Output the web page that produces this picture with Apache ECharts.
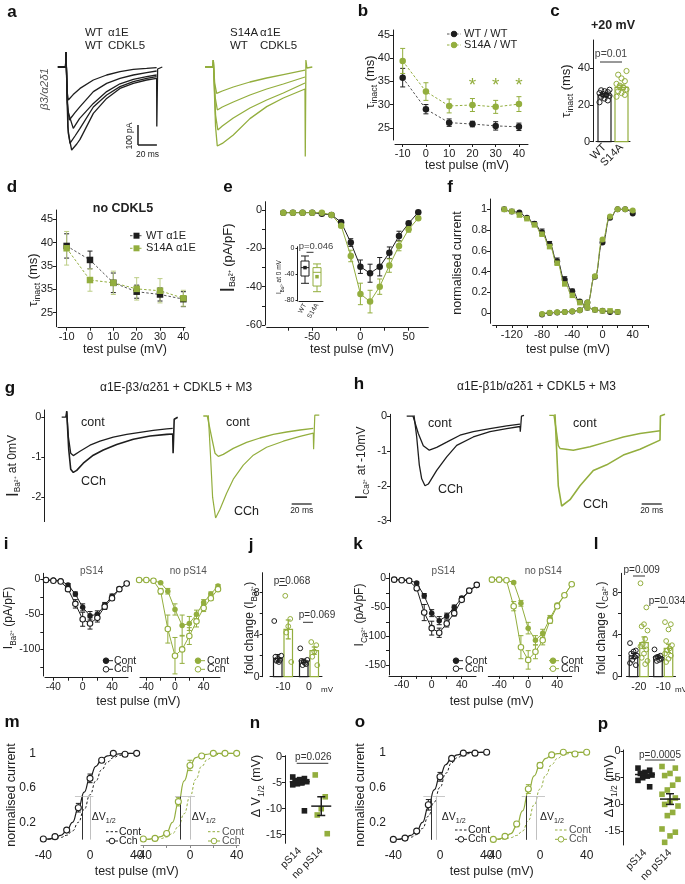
<!DOCTYPE html>
<html><head><meta charset="utf-8"><title>figure</title>
<script src="https://cdn.jsdelivr.net/npm/echarts@6/dist/echarts.min.js"></script>
<style>html,body{margin:0;padding:0;background:#fff;}#chart{width:685px;height:884px;}</style>
</head><body><div id="chart"></div>
<script>
// ================= DATA =================
// a: example current traces [ms, pA]
const aWT1 = [[-9,0],[-0.5,0],[0,75],[1.2,-120],[2.6,-165],[8,-138],[15.6,-107],[30.4,-65],[45.2,-40],[60,-23],[74.8,-12],[89.6,-7],[100.7,-3]];
const aWT2 = [[-9,0],[-0.5,0],[0,75],[1.5,-180],[3.7,-265],[10,-228],[15.6,-198],[30.4,-123],[45.2,-82],[60,-57],[74.8,-40],[89.6,-28],[100.7,-20]];
const aWT3 = [[-9,0],[-0.5,0],[0,75],[2,-220],[8.1,-307],[15,-258],[30.4,-182],[45.2,-123],[60,-84],[74.8,-62],[89.6,-48],[100.7,-40]];
const aWT4 = [[-9,0],[-0.5,0],[0,75],[2,-300],[4.4,-382],[10,-345],[15.6,-307],[30.4,-200],[45.2,-140],[60,-98],[74.8,-73],[89.6,-57],[100.7,-48]];
const aWT5 = [[-9,0],[-0.5,0],[0,75],[2.5,-330],[6.3,-415],[12,-385],[15.6,-362],[30.4,-232],[45.2,-157],[60,-107],[74.8,-82],[89.6,-65],[100.7,-57],[100.9,-298],[101.8,-10],[107,0]];
const aS1 = [[-9,0],[-0.5,0],[0,35],[1.5,-80],[3.7,-132],[10,-120],[22.2,-100],[40.7,-75],[59.3,-55],[77.8,-38],[101.9,-16]];
const aS2 = [[-9,0],[-0.5,0],[0,35],[2,-150],[4.5,-215],[10,-200],[22.2,-175],[40.7,-140],[59.3,-110],[77.8,-85],[101.9,-50]];
const aS3 = [[-9,0],[-0.5,0],[0,35],[2.5,-240],[5,-315],[10,-295],[22.2,-255],[40.7,-205],[59.3,-165],[77.8,-130],[101.9,-80]];
const aS4 = [[-9,0],[-0.5,0],[0,35],[2.5,-300],[4.4,-395],[10,-382],[22.2,-340],[40.7,-258],[59.3,-198],[77.8,-155],[101.9,-110],[102.2,-448],[102.9,35],[104,-5],[110,0]];
const aScaleV = [[80,-390],[80,-290]];   // 100 pA
const aScaleH = [[80,-390],[101,-390]];  // 20 ms

// b
const bVolt = [-10,0,10,20,30,40];
const bWT = [35.8,29.0,26.1,25.8,25.4,25.2];
const bWTerr = [2.0,1.0,0.8,0.6,0.9,0.8];
const bS14A = [39.4,32.8,29.7,29.9,29.5,30.1];
const bS14Aerr = [2.7,1.9,1.5,1.4,1.4,1.6];
const bStarVolt = [20,30,40];
const bStarLevel = 34.6;
const bYTicks = [25,30,35,40,45];

// c
const cGroups = ['WT','S14A'];
const cMeans = [25.4,29.6];
const cErr = [0.9,1.2];
const cWTpts = [21.5,22.5,23.5,24.5,25,25.5,26,26.5,27,27.5,28,28.3];
const cS14Apts = [24.5,25.5,26.5,27.5,28.5,29.5,30.5,31.5,33,34.5,36.5,38.5];

// d
const dVolt = [-10,0,10,20,30,40];
const dWT = [39.3,36.3,31.4,29.5,28.9,27.9];
const dWTerr = [2.6,1.9,2.1,1.4,1.4,1.6];
const dS14A = [38.8,32.0,31.4,30.1,29.7,28.1];
const dS14Aerr = [3.6,2.4,2.5,2.4,2.6,1.7];
const dTickVals = [25,30,35,40,45];
const dTickLabels = ['25','35','35','40','45'];

// e
const eVolt = [-80,-70,-60,-50,-40,-30,-20,-10,0,10,20,30,40,50,60];
const eWT = [-1.4,-1.4,-1.4,-1.4,-2,-2.6,-6.4,-17,-29.6,-33,-29.6,-22.3,-13.6,-7,-1.2];
const eWTerr = [0,0,0,0,0,0.5,1,2,3.5,4.7,4.8,3,2.5,1,0.5];
const eS14A = [-1.4,-1.4,-1.4,-1.4,-1.4,-2.6,-8.2,-24,-43.8,-47.8,-40,-29,-18.8,-10.1,-4.3];
const eS14Aerr = [0,0,0,0,0,0.5,1,3,5.6,5.9,4,3.5,2.5,1.5,0.8];
const eInsetGroups = ['WT','S14A'];
const eBoxWT = [-53.8,-42.6,-29.7,-19.5,-11.8];
const eBoxS14A = [-66.7,-58,-36.9,-29.7,-24];
const eInsetMeans = [-29.7,-43.6];

// f
const fInactV = [-130,-120,-110,-100,-90,-80,-70,-60,-50,-40,-30,-20,-10,0,10,20];
const fInactWT = [1.0,0.98,0.97,0.92,0.86,0.78,0.66,0.5,0.32,0.21,0.11,0.05,0.03,0.02,0.01,0.01];
const fInactWTerr = [0,0,0,0.01,0.02,0.03,0.03,0.03,0.03,0.02,0.01,0,0,0,0,0];
const fInactS14A = [1.0,0.98,0.945,0.91,0.85,0.76,0.64,0.48,0.28,0.17,0.1,0.05,0.03,0.02,0.02,0.01];
const fActV = [-80,-70,-60,-50,-40,-30,-20,-10,0,10,20,30,40];
const fActWT = [-0.015,0.0,0.005,0.01,0.015,0.025,0.1,0.35,0.68,0.92,1.0,1.0,0.96];
const fActS14A = [-0.01,0.003,0.006,0.01,0.016,0.026,0.1,0.355,0.71,0.93,1.0,1.0,0.99];

// g traces [ms, normalised]
const gBlackCont = [[-5,0],[-1,0],[0,0.15],[1.7,-0.5],[4,-0.9],[6.6,-0.96],[13.3,-0.85],[23.3,-0.7],[33.3,-0.6],[46.6,-0.5],[60,-0.43],[73.3,-0.38],[86.6,-0.33],[100,-0.29],[106,-0.28]];
const gBlackCCh = [[0,0.15],[2,-0.8],[4,-1.3],[6.6,-1.38],[10,-1.33],[16.6,-1.15],[26.6,-0.95],[36.6,-0.82],[50,-0.68],[66.6,-0.55],[83.3,-0.47],[100,-0.43],[106,-0.42],[106.4,-0.9],[107.5,-0.05],[111,0]];
const gGreenCont = [[-5,0.03],[-1,0.03],[0,0.05],[3.3,-0.5],[6.7,-0.9],[10,-0.98],[15,-0.93],[25,-0.78],[38.3,-0.63],[51.7,-0.52],[65,-0.43],[78.3,-0.37],[91.7,-0.32],[105,-0.28]];
const gGreenCCh = [[0,0.05],[2.3,-1.0],[4.3,-2.0],[7.3,-2.52],[11.7,-2.3],[18.3,-1.9],[25,-1.55],[35,-1.2],[45,-0.95],[58.3,-0.75],[75,-0.6],[91.7,-0.48],[105,-0.4],[105.3,-0.8],[106.5,0.05],[111,0.05]];
const gScale = [[83.4,-2.17],[103.4,-2.17]];

// h traces
const hBlackCont = [[-7.3,0],[-1,0],[0,0.02],[4.3,-0.5],[9.3,-0.85],[15.3,-0.98],[22.7,-0.9],[32.7,-0.75],[46,-0.55],[59.3,-0.45],[76,-0.36],[92.7,-0.28],[106,-0.23]];
const hBlackCCh = [[0,0.02],[2.7,-0.6],[5.3,-1.4],[7.7,-1.8],[11,-2.0],[14.3,-1.95],[22.7,-1.56],[32.7,-1.17],[42.7,-0.84],[59.3,-0.6],[76,-0.45],[92.7,-0.36],[106,-0.3],[106.3,-0.45],[107.5,0],[110,0.02]];
const hGreenCont = [[-5.7,0.02],[-1,0.02],[0,0.05],[1.7,-0.5],[3.3,-0.85],[5,-0.93],[18.3,-0.98],[35,-0.88],[51.7,-0.74],[68.3,-0.6],[85,-0.5],[105,-0.42]];
const hGreenCCh = [[0,0.05],[1.7,-1.0],[3.3,-2.0],[6.7,-2.58],[15,-2.4],[25,-2.0],[38.3,-1.56],[51.7,-1.4],[68.3,-1.12],[85,-0.95],[105,-0.69],[105.4,0],[107,0.05],[110,0.05]];
const hScale = [[86.7,-2.52],[106.7,-2.52]];

// i (IBa, pA/pF)
const iVolt = [-50,-40,-30,-20,-10,0,10,20,30,40,50,60];
const iPsCont = [-1,-1,-2,-8,-21,-40,-52,-50,-37,-24,-14,-6];
const iPsContErr = [0,0,0,2,3,5,6,5,4,3,2,1];
const iPsCch = [-1,-2,-3,-14,-35,-57,-63,-55,-39,-27,-14,-6];
const iPsCchErr = [0,0,1,3,6,10,8,6,4,3,2,1];
const iNoCont = [-1,-1,-2,-5,-17,-43,-66,-63,-50,-33,-21,-9.5];
const iNoContErr = [0,0,0,1,4,8,15,10,6,4,3,2];
const iNoCch = [-1,-1,-2,-17,-71,-109,-100,-81,-60,-41,-27,-14];
const iNoCchErr = [0,0,0,4,20,26,20,12,8,5,3,2];

// j (fold change IBa)
const jCats = ['-10','0'];
const jContMean = [1.75,1.52];
const jContErr = [0.35,0.15];
const jCchMean = [4.5,2.48];
const jCchErr = [0.9,0.35];
const jContPts = [[5.3,1.6,1.7,1.9,2.0,1.4,1.5],[2.7,1.2,1.4,1.5,1.6,1.3,1.1]];
const jCchPts = [[7.7,5.5,4.8,4.2,1.4],[3.3,3.0,2.4,1.9,1.1]];

// k (ICa, pA/pF)
const kVolt = [-50,-40,-30,-20,-10,0,10,20,30,40,50,60];
const kPsCont = [-2,-2,-3,-8,-30,-60,-73,-65,-50,-34,-22,-12];
const kPsContErr = [0,0,0,2,4,6,7,5,4,3,2,1];
const kPsCch = [-2,-3,-4,-17,-59,-86,-94,-78,-60,-37,-21,-11];
const kPsCchErr = [0,0,1,4,14,12,8,6,5,3,2,1];
const kNoCont = [-2,-2,-3,-7,-43,-86,-107,-95,-69,-46,-29,-10];
const kNoContErr = [0,0,0,2,5,10,8,7,5,3,2,1];
const kNoCch = [-2,-2,-3,-48,-119,-141,-127,-107,-73,-48,-29,-10];
const kNoCchErr = [0,0,0,8,20,16,12,8,5,3,2,1];

// l (fold change ICa)
const lCats = ['-20','-10'];
const lContMean = [1.97,1.9];
const lContErr = [0.25,0.15];
const lCchMean = [3.24,2.7];
const lCchErr = [0.55,0.4];
const lContPts = [[3.2,2.5,2.4,2.2,2.0,1.9,1.6,1.3,1.1],[2.6,2.0,1.9,1.8,1.7,1.6,1.5]];
const lCchPts = [[8.9,6.6,5.0,4.8,4.4,3.6,3.1,2.9,2.6,2.2,1.8,1.5,1.2],[5.2,5.0,4.5,3.4,3.0,2.7,2.5,2.2,2.0,1.7,1.4]];

// m / o (normalised activation)
const mVolt = [-40,-30,-20,-10,0,10,20,30,40];
const mPsCch = [0.007,0.034,0.11,0.37,0.71,0.92,1.0,0.99,1.0];
const mPsCchErr = [0,0,0.02,0.05,0.05,0.02,0,0,0];
const mNoCch = [0.007,0.014,0.07,0.44,0.86,0.97,1.0,1.0,1.0];
const mNoCchErr = [0,0,0.02,0.05,0.06,0.02,0,0,0];
const oPsCch = [0.005,0.02,0.1,0.4,0.72,0.93,0.99,0.99,1.0];
const oPsCchErr = [0,0,0.02,0.06,0.05,0.02,0,0,0];
const oNoCch = [0.005,0.04,0.18,0.58,0.85,0.97,1.0,0.98,1.0];
const oNoCchErr = [0,0,0.03,0.05,0.03,0.01,0,0,0];
const fitVolt = [-40,-35,-30,-25,-20,-15,-10,-5,0,5,10,15,20,25,30,35,40];
const mPsCchFit = [0.003,0.008,0.02,0.05,0.1,0.2,0.36,0.55,0.72,0.85,0.93,0.97,0.985,0.995,1,1,1];
const mPsContFit = [0.001,0.004,0.01,0.025,0.05,0.1,0.2,0.35,0.52,0.68,0.81,0.9,0.95,0.975,0.99,1,1];
const mNoCchFit = [0.002,0.006,0.015,0.035,0.08,0.2,0.42,0.68,0.86,0.95,0.98,0.99,1,1,1,1,1];
const mNoContFit = [0,0.002,0.005,0.012,0.03,0.07,0.15,0.3,0.5,0.7,0.85,0.93,0.97,0.99,1,1,1];
const oPsCchFit = [0.003,0.008,0.02,0.05,0.1,0.2,0.37,0.57,0.73,0.86,0.94,0.97,0.99,1,1,1,1];
const oPsContFit = [0.001,0.004,0.01,0.03,0.06,0.13,0.27,0.43,0.6,0.76,0.88,0.94,0.97,0.985,0.99,1,1];
const oNoCchFit = [0.004,0.012,0.03,0.07,0.16,0.33,0.55,0.73,0.86,0.93,0.97,0.985,0.99,1,1,1,1];
const oNoContFit = [0,0.004,0.01,0.025,0.05,0.1,0.22,0.4,0.58,0.74,0.86,0.93,0.97,0.985,0.99,1,1];
const v12Cch = [-7,-8.6,-7.7,-11.4];     // mL, mR, oL, oR
const v12Cont = [0,0,-2.9,-2.9];
const halfRange = [[-12.9,2.9],[-12.9,4.3],[-14.3,4.3],[-15.7,4.3]];

// n / p (delta V1/2)
const dvCats = ['pS14','no pS14'];
const nPS14 = [-3.9,-4.2,-4.4,-4.6,-4.8,-5.0,-5.2,-5.4,-10.4];
const nNoPS14 = [-3.5,-7.7,-10.0,-11.2,-14.8];
const nMean = [-4.8,-9.5];
const nErr = [0.6,1.8];
const pPS14 = [-3.2,-3.6,-4.0,-4.2,-4.5,-4.7,-5.0,-5.5,-6.7];
const pNoPS14 = [-2.9,-3.2,-4.2,-4.6,-5.3,-6.4,-7.3,-8.1,-8.8,-9.4,-10.0,-10.3,-11.5,-12.1,-14.6,-15.2,-15.9,-17.1];
const pMean = [-4.4,-9.0];
const pErr = [0.5,1.0];

// ================= BUILD =================
const FONT = "'Liberation Sans', Arial, Helvetica, sans-serif";
const K = '#1e1e1e', GR = '#93ae3e', GRL = '#bccd85', GY = '#b0b0b0', TX = '#222';
const grids = [], xAxes = [], yAxes = [], series = [], graphics = [];
const zip = (xs, ys) => xs.map((x, i) => [x, ys[i]]);
const zip3 = (xs, ys, es) => xs.map((x, i) => [x, ys[i], es[i]]);

function addGrid(box, x, y) {
  const i = grids.length;
  grids.push({left: box[0], top: box[1], width: box[2], height: box[3], containLabel: false, outerBoundsMode: 'none', show: false});
  x.gridIndex = i; y.gridIndex = i; xAxes.push(x); yAxes.push(y); return i;
}
function valAxis(min, max, ticks, labels, o) {
  o = o || {};
  const col = o.color || K;
  return {type: 'value', min, max, show: true, offset: o.offset || 0,
    axisLine: {show: o.line !== false, onZero: false, lineStyle: {color: col, width: 1}},
    axisTick: {show: !!ticks, customValues: ticks || [], length: o.tl || 3, lineStyle: {color: col, width: 1}},
    axisLabel: {show: !!labels, customValues: labels || [], fontSize: o.fs || 11, color: TX, fontFamily: FONT, margin: o.margin == null ? 3 : o.margin, formatter: o.fmt || (v => String(v))},
    splitLine: {show: false}, axisPointer: {show: false}};
}
function hid(min, max) { return {type: 'value', min, max, show: false, splitLine: {show: false}}; }
function catAxis(cats, o) {
  o = o || {};
  return {type: 'category', data: cats, boundaryGap: true, offset: o.offset || 0,
    axisLine: {show: o.line !== false, onZero: false, lineStyle: {color: K, width: 1}},
    axisTick: {show: false},
    axisLabel: {show: true, interval: 0, rotate: o.rotate || 0, fontSize: o.fs || 11, color: TX, fontFamily: FONT, margin: o.margin || 4},
    splitLine: {show: false}};
}
function L(gi, data, color, o) {
  o = o || {};
  return {type: 'line', xAxisIndex: gi, yAxisIndex: gi, data, animation: false, silent: true, clip: false,
    symbol: o.sym || 'none', showSymbol: !!o.sym, symbolSize: o.ss || 5,
    smooth: o.smooth || false, smoothMonotone: o.smooth ? 'x' : undefined,
    lineStyle: {color: o.lc || color, width: o.w || 1, type: o.dash ? [2.5, 2] : 'solid'},
    itemStyle: {color: o.open ? '#fff' : color, borderColor: color, borderWidth: o.open ? 1.1 : 0},
    emphasis: {disabled: true}, z: o.z || 3};
}
function P(gi, data, color, o) {
  o = o || {};
  return {type: 'scatter', xAxisIndex: gi, yAxisIndex: gi, data, animation: false, silent: true, clip: false,
    symbol: o.sym || 'circle', symbolSize: o.ss || 5,
    itemStyle: {color: o.open ? '#fff' : color, borderColor: color, borderWidth: o.open ? 1.1 : 0, opacity: 1},
    emphasis: {disabled: true}, z: o.z || 4};
}
function E(gi, data, color, o) {
  o = o || {};
  const cap = o.cap == null ? 2.5 : o.cap, off = o.off || 0;
  return {type: 'custom', xAxisIndex: gi, yAxisIndex: gi, data, silent: true, clip: false, z: o.z || 2,
    renderItem(p, api) {
      const x = api.value(0), y = api.value(1), e = api.value(2);
      if (!e) return null;
      const a = api.coord([x, y + e]), b = api.coord([x, y - e]); const cx = a[0] + off;
      const st = {stroke: color, lineWidth: o.lw || 1};
      return {type: 'group', children: [
        {type: 'line', shape: {x1: cx, y1: a[1], x2: cx, y2: b[1]}, style: st},
        {type: 'line', shape: {x1: cx - cap, y1: a[1], x2: cx + cap, y2: a[1]}, style: st},
        {type: 'line', shape: {x1: cx - cap, y1: b[1], x2: cx + cap, y2: b[1]}, style: st}]};
    }};
}
function dots(gi, groups, color, o) {
  const data = [];
  groups.forEach((arr, g) => arr.forEach((v, k) => data.push([g, v, k])));
  return {type: 'custom', xAxisIndex: gi, yAxisIndex: gi, data, silent: true, clip: false, z: o.z || 5,
    renderItem(p, api) {
      const c = api.coord([api.value(0), api.value(1)]); const k = api.value(2);
      const dx = (o.off || 0) + (o.spread || 0) * ((((k * 5) % 7) / 3) - 1); const r = o.r || 2.5;
      if (o.sq) return {type: 'rect', shape: {x: c[0] + dx - r, y: c[1] - r, width: 2 * r, height: 2 * r}, style: {fill: color}};
      return {type: 'circle', shape: {cx: c[0] + dx, cy: c[1], r}, style: {fill: o.open ? 'rgba(255,255,255,0)' : color, stroke: color, lineWidth: o.open ? 1 : 0}};
    }};
}
function bars(gi, data, color, o) {
  return {type: 'custom', xAxisIndex: gi, yAxisIndex: gi, data, silent: true, clip: false, z: 3,
    renderItem(p, api) {
      const t = api.coord([api.value(0), api.value(1)]); const b = api.coord([api.value(0), 0]);
      return {type: 'rect', shape: {x: t[0] + (o.off || 0) - o.w / 2, y: t[1], width: o.w, height: b[1] - t[1]}, style: {fill: 'rgba(255,255,255,0)', stroke: color, lineWidth: o.lw || 1.2}};
    }};
}
function meanLines(gi, data, color, hw) {
  return {type: 'custom', xAxisIndex: gi, yAxisIndex: gi, data, silent: true, clip: false, z: 6,
    renderItem(p, api) {
      const m = api.coord([api.value(0), api.value(1)]); const e = api.value(2);
      const a = api.coord([api.value(0), api.value(1) + e]), b = api.coord([api.value(0), api.value(1) - e]);
      const st = {stroke: color, lineWidth: 1.5};
      return {type: 'group', children: [
        {type: 'line', shape: {x1: m[0] - hw, y1: m[1], x2: m[0] + hw, y2: m[1]}, style: st},
        {type: 'line', shape: {x1: m[0], y1: a[1], x2: m[0], y2: b[1]}, style: st},
        {type: 'line', shape: {x1: m[0] - 4, y1: a[1], x2: m[0] + 4, y2: a[1]}, style: st},
        {type: 'line', shape: {x1: m[0] - 4, y1: b[1], x2: m[0] + 4, y2: b[1]}, style: st}]};
    }};
}
function T(x, y, text, o) {
  o = o || {};
  const al = o.align || 'center';
  graphics.push({type: 'text', x, y, rotation: o.rot || 0, silent: true, z: 100,
    style: {text, fill: o.color || TX, fontSize: o.fs || 12, fontFamily: FONT, fontWeight: o.bold ? 'bold' : 'normal',
      fontStyle: o.italic ? 'italic' : 'normal',
      align: al, verticalAlign: 'middle', textAlign: al, textVerticalAlign: 'middle', rich: o.rich}});
}
function RT(x, y, parts, o) {
  o = o || {};
  const fs = o.fs || 12.5, col = o.color || TX;
  const rich = {
    n: {fontSize: fs, fontFamily: FONT, fill: col, lineHeight: fs + 5},
    s: {fontSize: fs * 0.68, fontFamily: FONT, fill: col, verticalAlign: 'bottom'},
    b: {fontSize: o.big || fs * 1.45, fontFamily: FONT, fill: col, lineHeight: fs + 5}
  };
  const text = parts.map(p => '{' + p[1] + '|' + p[0] + '}').join('');
  T(x, y, text, {rot: o.rot == null ? Math.PI / 2 : o.rot, rich, fs, color: col, align: o.align});
}
function GL(x1, y1, x2, y2, color, o) {
  o = o || {};
  graphics.push({type: 'line', silent: true, z: 100, shape: {x1, y1, x2, y2}, style: {stroke: color, lineWidth: o.w || 1, lineDash: o.dash ? [2.5, 2] : null}});
}
function LG(x, y, color, text, o) {
  o = o || {};
  const len = o.len || 12;
  GL(x, y, x + len, y, o.lc || color, {dash: o.dash});
  const cx = o.sx != null ? o.sx : x + len / 2;
  if (o.sym === 'circle') graphics.push({type: 'circle', silent: true, z: 101, shape: {cx, cy: y, r: o.r || 2.8}, style: {fill: o.open ? '#fff' : color, stroke: color, lineWidth: 1}});
  if (o.sym === 'square') graphics.push({type: 'rect', silent: true, z: 101, shape: {x: cx - 3, y: y - 3, width: 6, height: 6}, style: {fill: color}});
  T(x + len + (o.gap || 3), y, text, {align: 'left', fs: o.fs || 11, color: o.tc || TX});
}

// ---------- panel a ----------
const gaL = addGrid([55, 45, 110, 115], hid(-12.2, 110), hid(-465, 110));
const gaR = addGrid([200, 45, 115, 115], hid(-14.8, 113), hid(-465, 110));
[aWT1, aWT2, aWT3, aWT4, aWT5].forEach(d => series.push(L(gaL, d, K, {w: 1.3})));
[aS1, aS2, aS3, aS4].forEach(d => series.push(L(gaR, d, GR, {w: 1.3})));
series.push(L(gaL, aScaleV, K, {w: 1.5}), L(gaL, aScaleH, K, {w: 1.5}));
T(85, 33, 'WT', {align: 'left', fs: 11.5}); T(108, 33, 'α1E', {align: 'left', fs: 11.5});
T(85, 45.7, 'WT', {align: 'left', fs: 11.5}); T(108, 45.7, 'CDKL5', {align: 'left', fs: 11.5});
T(230, 33, 'S14A', {align: 'left', fs: 11.5}); T(260, 33, 'α1E', {align: 'left', fs: 11.5});
T(230, 45.7, 'WT', {align: 'left', fs: 11.5}); T(260, 45.7, 'CDKL5', {align: 'left', fs: 11.5});
T(45, 89, 'β3/α2δ1', {rot: Math.PI / 2, fs: 11.5, color: '#555', italic: true});
T(130, 136, '100 pA', {rot: Math.PI / 2, fs: 8.5});
T(147.5, 155, '20 ms', {fs: 8.5});

// ---------- panel b ----------
const gb = addGrid([395, 30, 133, 110],
  valAxis(-13.3, 43.9, bVolt, bVolt, {offset: 4, margin: 4}),
  valAxis(22.36, 46.07, bYTicks, bYTicks, {offset: 2}));
series.push(E(gb, zip3(bVolt, bWT, bWTerr), K), E(gb, zip3(bVolt, bS14A, bS14Aerr), GR));
series.push(L(gb, zip(bVolt, bWT), K, {dash: true, lc: '#555', sym: 'circle', ss: 6.5}));
series.push(L(gb, zip(bVolt, bS14A), GR, {dash: true, sym: 'circle', ss: 6.5}));
series.push({type: 'custom', xAxisIndex: gb, yAxisIndex: gb, data: bStarVolt.map(v => [v, bStarLevel]), silent: true, clip: false, z: 6,
  renderItem(p, api) { const c = api.coord([api.value(0), api.value(1)]);
    return {type: 'text', x: c[0], y: c[1] + 3, style: {text: '*', fill: GR, fontSize: 19, fontFamily: FONT, align: 'center', verticalAlign: 'middle', textAlign: 'center', textVerticalAlign: 'middle'}}; }});
RT(370, 82, [['τ', 'n'], ['inact', 's'], [' (ms)', 'n']], {fs: 13});
T(467, 166, 'test pulse (mV)', {fs: 12.5});
LG(447, 34, K, 'WT / WT', {dash: true, lc: '#555', sym: 'circle', len: 14});
LG(447, 45, GR, 'S14A / WT', {dash: true, sym: 'circle', len: 14});

// ---------- panel c ----------
const gc = addGrid([596, 40, 34, 101.7], catAxis(cGroups, {rotate: 45, fs: 11, margin: 4}), valAxis(0, 55.4, [0, 20, 40], [0, 20, 40], {offset: 3}));
series.push(bars(gc, [[0, cMeans[0]]], K, {w: 13}));
series.push(bars(gc, [[1, cMeans[1]]], GR, {w: 13}));
series.push(dots(gc, [cWTpts, []], K, {open: true, spread: 5, r: 2.6}));
series.push(dots(gc, [[], cS14Apts], GR, {open: true, spread: 5, r: 2.6}));
series.push(E(gc, [[0, cMeans[0], cErr[0]]], K, {lw: 1.5, cap: 4}), E(gc, [[1, cMeans[1], cErr[1]]], GR, {lw: 1.5, cap: 4}));
T(613, 26, '+20 mV', {bold: true, fs: 12.5});
T(611, 54, 'p=0.01', {fs: 10.5, color: '#444'});
GL(600, 62, 622, 62, '#333');
RT(566, 91, [['τ', 'n'], ['inact', 's'], [' (ms)', 'n']], {fs: 13});

// ---------- panel d ----------
const dLabelMap = {}; dTickVals.forEach((v, i) => dLabelMap[v] = dTickLabels[i]);
const gd = addGrid([58, 210, 127, 116.7],
  valAxis(-13.7, 40.7, dVolt, dVolt, {offset: 1, margin: 4}),
  valAxis(22, 47, dTickVals, dTickVals, {offset: 2, fmt: v => dLabelMap[v]}));
series.push(E(gd, zip3(dVolt, dWT, dWTerr), K), E(gd, zip3(dVolt, dS14A, dS14Aerr), GRL));
series.push(L(gd, zip(dVolt, dWT), K, {dash: true, lc: '#555', sym: 'rect', ss: 6.5}));
series.push(L(gd, zip(dVolt, dS14A), GR, {dash: true, sym: 'rect', ss: 6.5}));
T(123, 209, 'no CDKL5', {bold: true, fs: 12.5});
RT(33, 280, [['τ', 'n'], ['inact', 's'], [' (ms)', 'n']], {fs: 13});
T(125, 350, 'test pulse (mV)', {fs: 12.5});
LG(130, 235.7, K, 'WT α1E', {dash: true, lc: '#555', sym: 'square', len: 13});
LG(130, 248.3, GR, 'S14A α1E', {dash: true, sym: 'square', len: 13});

// ---------- panel e ----------
const ge = addGrid([266.7, 201.7, 161.6, 123.3],
  valAxis(-97.2, 70.4, [-75, -50, -25, 0, 25, 50], [-50, 0, 50], {offset: 2.7, margin: 4}),
  valAxis(-60, 4.3, [-60, -50, -40, -30, -20, -10, 0], [-60, -40, -20, 0], {offset: 1.7}));
series.push(E(ge, zip3(eVolt, eWT, eWTerr), K), E(ge, zip3(eVolt, eS14A, eS14Aerr), GR));
series.push(L(ge, zip(eVolt, eWT), K, {sym: 'circle', ss: 6.5}));
series.push(L(ge, zip(eVolt, eS14A), GR, {sym: 'circle', ss: 6.5}));
RT(228, 258, [['I', 'b'], ['Ba²⁺', 's'], [' (pA/pF)', 'n']], {fs: 13, big: 20});
T(352, 350, 'test pulse (mV)', {fs: 12.5});
// inset
const gei = addGrid([299, 246.7, 24, 54.3], catAxis(eInsetGroups, {rotate: 60, fs: 6.5, margin: 3}),
  valAxis(-81, 2.5, [0, -40, -80], [0, -40, -80], {offset: 1.5, fs: 7, tl: 2}));
series.push({type: 'boxplot', xAxisIndex: gei, yAxisIndex: gei, silent: true, animation: false, boxWidth: [8, 8],
  itemStyle: {color: '#fff', borderWidth: 1},
  data: [{value: eBoxWT, itemStyle: {borderColor: K}}, {value: eBoxS14A, itemStyle: {borderColor: GR}}]});
series.push(P(gei, [[0, eInsetMeans[0]]], K, {sym: 'rect', ss: 3.5, z: 8}), P(gei, [[1, eInsetMeans[1]]], GR, {sym: 'rect', ss: 3.5, z: 8}));
T(316, 246.7, 'p=0.046', {fs: 9.5, color: '#444'});
GL(306.5, 252.3, 313.5, 252.3, '#333');
RT(279, 277, [['I', 'n'], ['Ba²⁺', 's'], [' at 0 mV', 'n']], {fs: 6.5});

// ---------- panel f ----------
const gf = addGrid([492.7, 199, 155.6, 124.3],
  valAxis(-145.3, 60.6, [-140, -120, -100, -80, -60, -40, -20, 0, 20, 40, 60], [-120, -80, -40, 0, 40], {offset: 1.7, margin: 4}),
  valAxis(-0.1, 1.1, [0, 0.2, 0.4, 0.6, 0.8, 1], [0, 0.2, 0.4, 0.6, 0.8, 1], {offset: 2.7}));
series.push(E(gf, zip3(fInactV, fInactWT, fInactWTerr), K));
series.push(L(gf, zip(fInactV, fInactWT), K, {smooth: true, sym: 'circle', ss: 6}));
series.push(L(gf, zip(fActV, fActWT), K, {smooth: true, sym: 'circle', ss: 6}));
series.push(L(gf, zip(fInactV, fInactS14A), GR, {smooth: true, sym: 'rect', ss: 5.5, z: 4}));
series.push(L(gf, zip(fActV, fActS14A), GR, {smooth: true, sym: 'circle', ss: 6, z: 4}));
RT(458, 263, [['normalised current', 'n']], {fs: 12.5});
T(568, 350, 'test pulse (mV)', {fs: 12.5});

// ---------- panel g ----------
const ggL = addGrid([44.3, 410, 140, 111.6], hid(-22.4, 117.6), valAxis(-2.61, 0.18, [0, -1, -2], [0, -1, -2], {}));
const ggR = addGrid([195, 410, 125, 111.6], hid(-13.3, 111.7), hid(-2.61, 0.18));
series.push(L(ggL, gBlackCont, K, {w: 1.3}), L(ggL, gBlackCCh, K, {w: 1.6}));
series.push(L(ggR, gGreenCont, GR, {w: 1.3}), L(ggR, gGreenCCh, GR, {w: 1.2}));
series.push(L(ggR, gScale, '#444', {w: 1.5}));
T(100, 388, 'α1E-β3/α2δ1 + CDKL5 + M3', {align: 'left', fs: 12});
RT(13, 466, [['I', 'b'], ['Ba²⁺', 's'], [' at 0mV', 'n']], {fs: 12, big: 17});
T(81, 423, 'cont', {align: 'left', fs: 12.5}); T(81, 482, 'CCh', {align: 'left', fs: 12.5});
T(226, 423, 'cont', {align: 'left', fs: 12.5}); T(234, 512, 'CCh', {align: 'left', fs: 12.5});
T(301.7, 510.7, '20 ms', {fs: 8.5});

// ---------- panel h ----------
const ghL = addGrid([390, 414.3, 140, 107.4], hid(-24, 116), valAxis(-3.03, 0.05, [0, -1, -2, -3], [0, -1, -2, -3], {}));
const ghR = addGrid([540, 414.3, 130, 107.4], hid(-15, 115), hid(-3.03, 0.05));
series.push(L(ghL, hBlackCont, K, {w: 1.3}), L(ghL, hBlackCCh, K, {w: 1.3}));
series.push(L(ghR, hGreenCont, GR, {w: 1.4}), L(ghR, hGreenCCh, GR, {w: 1.6}));
series.push(L(ghR, hScale, '#444', {w: 1.5}));
T(457, 387, 'α1E-β1b/α2δ1 + CDKL5 + M3', {align: 'left', fs: 12});
RT(362, 463, [['I', 'b'], ['Ca²⁺', 's'], [' at -10mV', 'n']], {fs: 12, big: 17});
T(428, 424, 'cont', {align: 'left', fs: 12.5}); T(438, 490, 'CCh', {align: 'left', fs: 12.5});
T(573, 424, 'cont', {align: 'left', fs: 12.5}); T(583, 505, 'CCh', {align: 'left', fs: 12.5});
T(651.7, 511, '20 ms', {fs: 8.5});

// ---------- panel i ----------
const giL = addGrid([45, 573.3, 83, 102.7],
  valAxis(-51.4, 61.8, [-40, -20, 0, 20, 40], [-40, 0, 40], {offset: 1.7, fs: 10.5, margin: 4}),
  valAxis(-138, 8.6, [0, -25, -50, -75, -100, -125], [0, -50, -100], {offset: 1.7, fs: 10.5}));
const giR = addGrid([140, 573.3, 80, 102.7],
  valAxis(-48.8, 62.8, [-40, -20, 0, 20, 40], [-40, 0, 40], {offset: 1.7, fs: 10.5, margin: 4}), hid(-138, 8.6));
series.push(E(giL, zip3(iVolt, iPsCont, iPsContErr), K), E(giL, zip3(iVolt, iPsCch, iPsCchErr), K));
series.push(L(giL, zip(iVolt, iPsCont), K, {sym: 'circle', ss: 5.5}), L(giL, zip(iVolt, iPsCch), K, {sym: 'circle', ss: 5.5, open: true}));
series.push(E(giR, zip3(iVolt, iNoCont, iNoContErr), GR), E(giR, zip3(iVolt, iNoCch, iNoCchErr), GR));
series.push(L(giR, zip(iVolt, iNoCont), GR, {sym: 'circle', ss: 5.5}), L(giR, zip(iVolt, iNoCch), GR, {sym: 'circle', ss: 5.5, open: true}));
T(91.7, 571.7, 'pS14', {fs: 10, color: '#555'}); T(188.3, 571.7, 'no pS14', {fs: 10, color: '#555'});
RT(9, 618, [['I', 'n'], ['Ba²⁺', 's'], [' (pA/pF)', 'n']], {fs: 12});
T(138.3, 701.7, 'test pulse (mV)', {fs: 12.5});
LG(103, 660.7, K, 'Cont', {sym: 'circle', sx: 106, len: 10, fs: 10.5, gap: 1});
LG(103, 669.3, K, 'Cch', {sym: 'circle', open: true, sx: 106, len: 10, fs: 10.5, gap: 1});
LG(195, 660.7, GR, 'Cont', {sym: 'circle', sx: 198, len: 10, fs: 10.5, gap: 2});
LG(195, 669.3, GR, 'Cch', {sym: 'circle', open: true, sx: 198, len: 10, fs: 10.5, gap: 2});

// ---------- panel j ----------
const gj = addGrid([270, 572.7, 52, 104], catAxis(jCats, {fs: 10.5, margin: 5}), valAxis(0, 9.9, [0, 2, 4, 6, 8], [0, 4, 8], {offset: 7.3, fs: 10.5}));
series.push(bars(gj, zip([0, 1], jContMean), K, {w: 8.5, off: -5.25}), bars(gj, zip([0, 1], jCchMean), GR, {w: 8.5, off: 5.25}));
series.push(dots(gj, jContPts, K, {off: -5.25, spread: 3.5, r: 2.4, open: true}));
series.push(dots(gj, jCchPts, GR, {off: 5.25, spread: 3, r: 2.4, open: true}));
series.push(E(gj, zip3([0, 1], jContMean, jContErr), K, {off: -5.25, lw: 1.3, z: 6}), E(gj, zip3([0, 1], jCchMean, jCchErr), GR, {off: 5.25, lw: 1.3, z: 6}));
RT(250, 628, [['fold change (I', 'n'], ['Ba²⁺', 's'], [')', 'n']], {fs: 12});
T(292, 581.7, 'p=0.068', {fs: 10, color: '#333'}); GL(279, 585.5, 287, 585.5, '#333');
T(317, 615, 'p=0.069', {fs: 10, color: '#333'}); GL(303, 622.3, 313, 622.3, '#333');
T(321, 689.5, 'mV', {align: 'left', fs: 8});

// ---------- panel k ----------
const gkL = addGrid([389, 573.3, 87, 101.6],
  valAxis(-56.9, 59, [-40, -20, 0, 20, 40], [-40, 0, 40], {offset: 1, fs: 10.5, margin: 4}),
  valAxis(-167, 9, [0, -25, -50, -75, -100, -125, -150], [0, -50, -100, -150], {fs: 10.5}));
const gkR = addGrid([488.3, 573.3, 83.4, 101.6],
  valAxis(-55, 60, [-40, -20, 0, 20, 40], [-40, 0, 40], {offset: 1, fs: 10.5, margin: 4}), hid(-167, 9));
series.push(E(gkL, zip3(kVolt, kPsCont, kPsContErr), K), E(gkL, zip3(kVolt, kPsCch, kPsCchErr), K));
series.push(L(gkL, zip(kVolt, kPsCont), K, {sym: 'circle', ss: 5.5}), L(gkL, zip(kVolt, kPsCch), K, {sym: 'circle', ss: 5.5, open: true}));
series.push(E(gkR, zip3(kVolt, kNoCont, kNoContErr), GR), E(gkR, zip3(kVolt, kNoCch, kNoCchErr), GR));
series.push(L(gkR, zip(kVolt, kNoCont), GR, {sym: 'circle', ss: 5.5}), L(gkR, zip(kVolt, kNoCch), GR, {sym: 'circle', ss: 5.5, open: true}));
T(443.3, 571.7, 'pS14', {fs: 10, color: '#555'}); T(543.3, 571.7, 'no pS14', {fs: 10, color: '#555'});
RT(360, 615, [['I', 'n'], ['Ca²⁺', 's'], [' (pA/pF)', 'n']], {fs: 12});
T(491.7, 701.7, 'test pulse (mV)', {fs: 12.5});
LG(453, 660.7, K, 'Cont', {sym: 'circle', sx: 456, len: 10, fs: 10.5, gap: 2});
LG(453, 668.7, K, 'Cch', {sym: 'circle', open: true, sx: 456, len: 10, fs: 10.5, gap: 2});
LG(549, 660.7, GR, 'Cont', {sym: 'circle', sx: 553, len: 10, fs: 10.5, gap: 2});
LG(549, 668.7, GR, 'Cch', {sym: 'circle', open: true, sx: 553, len: 10, fs: 10.5, gap: 2});

// ---------- panel l ----------
const gl = addGrid([626.5, 573.3, 49, 103.4], catAxis(lCats, {fs: 10.5, margin: 5}), valAxis(0, 9.85, [0, 2, 4, 6, 8], [0, 4, 8], {offset: 5.5, fs: 10.5}));
series.push(bars(gl, zip([0, 1], lContMean), K, {w: 8.5, off: -5.25}), bars(gl, zip([0, 1], lCchMean), GR, {w: 8.5, off: 5.25}));
series.push(dots(gl, lContPts, K, {off: -5.25, spread: 3.5, r: 2.4, open: true}));
series.push(dots(gl, lCchPts, GR, {off: 5.25, spread: 3.5, r: 2.4, open: true}));
series.push(E(gl, zip3([0, 1], lContMean, lContErr), K, {off: -5.25, lw: 1.3, z: 6}), E(gl, zip3([0, 1], lCchMean, lCchErr), GR, {off: 5.25, lw: 1.3, z: 6}));
RT(601.7, 628, [['fold change (I', 'n'], ['Ca²⁺', 's'], [')', 'n']], {fs: 12});
T(641.7, 570, 'p=0.009', {fs: 10, color: '#333'}); GL(633, 576, 645, 576, '#333');
T(667, 601.7, 'p=0.034', {fs: 10, color: '#333'}); GL(658, 607.3, 668, 607.3, '#333');
T(675, 689.5, 'mV', {align: 'left', fs: 8});

// ---------- panels m / o ----------
function actPanel(box, yMin, yMax, showY, xLineColor, color, pts, errs, cchFit, contFit, idx) {
  const gi = addGrid(box,
    valAxis(-42, 42, xLineColor ? [-40, -20, 0, 20, 40] : null, [-40, 0, 40], {line: !!xLineColor, color: xLineColor || K, fs: 12, margin: 5}),
    showY ? valAxis(yMin, yMax, null, [0.2, 0.6, 1], {line: false, fs: 12, margin: 5}) : hid(yMin, yMax));
  series.push(L(gi, zip(fitVolt, contFit), color, {dash: true, smooth: true, w: 1}));
  series.push(L(gi, zip(fitVolt, cchFit), color, {smooth: true, w: 1.2}));
  series.push(E(gi, zip3(mVolt, pts, errs), color, {z: 4}));
  series.push(P(gi, zip(mVolt, pts), color, {open: true, ss: 6, z: 5}));
  series.push({type: 'line', xAxisIndex: gi, yAxisIndex: gi, data: [], silent: true,
    markLine: {silent: true, animation: false, symbol: ['none', 'arrow'], symbolSize: [0, 6], label: {show: false},
      data: [
        [{coord: [halfRange[idx][0], 0.5], symbol: 'none', lineStyle: {color: '#c8c8c8', width: 1, type: 'solid'}}, {coord: [halfRange[idx][1], 0.5], symbol: 'none'}],
        [{coord: [v12Cont[idx], 0.5], lineStyle: {color: '#c0c0c0', width: 1, type: 'solid'}}, {coord: [v12Cont[idx], 0]}],
        [{coord: [v12Cch[idx], 0.5], lineStyle: {color: '#333', width: 1, type: 'solid'}}, {coord: [v12Cch[idx], 0]}]
      ]}});
  return gi;
}
actPanel([41, 750, 98, 95], -0.0626, 1.039, true, null, K, mPsCch, mPsCchErr, mPsCchFit, mPsContFit, 0);
actPanel([141, 750, 98, 95], -0.0626, 1.039, false, '#888', GR, mNoCch, mNoCchErr, mNoCchFit, mNoContFit, 1);
actPanel([391, 750, 98, 95], -0.059, 1.026, true, null, K, oPsCch, oPsCchErr, oPsCchFit, oPsContFit, 2);
actPanel([491, 750, 98, 95], -0.059, 1.026, false, null, GR, oNoCch, oNoCchErr, oNoCchFit, oNoContFit, 3);
const dvRich = [['ΔV', 'n'], ['1/2', 's']];
[[91.7, 816.7], [191.7, 816.7], [441.7, 816.7], [540, 816.7]].forEach(p => RT(p[0], p[1], dvRich, {fs: 10.5, rot: 0, align: 'left'}));
RT(12, 795, [['normalised current', 'n']], {fs: 12.5});
RT(361, 795, [['normalised current', 'n']], {fs: 12.5});
T(136.7, 871.7, 'test pulse (mV)', {fs: 12.5});
T(491.7, 871.7, 'test pulse (mV)', {fs: 12.5});
LG(106, 831.7, K, 'Cont', {dash: true, len: 12, fs: 10.5, gap: 1});
LG(106, 841, K, 'Cch', {sym: 'circle', open: true, len: 12, fs: 10.5, gap: 1});
LG(208, 831.7, GR, 'Cont', {dash: true, len: 12, fs: 10.5, gap: 2, tc: '#555'});
LG(208, 841, GR, 'Cch', {sym: 'circle', open: true, len: 12, fs: 10.5, gap: 2, tc: '#555'});
LG(455, 830, K, 'Cont', {dash: true, len: 12, fs: 10.5, gap: 1});
LG(455, 839.3, K, 'Cch', {sym: 'circle', open: true, len: 12, fs: 10.5, gap: 1});
LG(555, 830, GR, 'Cont', {dash: true, len: 12, fs: 10.5, gap: 2, tc: '#555'});
LG(555, 839.3, GR, 'Cch', {sym: 'circle', open: true, len: 12, fs: 10.5, gap: 2, tc: '#555'});

// ---------- panel n ----------
const gn = addGrid([289, 755.7, 43, 87.6], catAxis(dvCats, {line: false, rotate: 45, fs: 10.5, margin: 6}),
  valAxis(-16.65, 0.2, [0, -5, -10, -15], [0, -5, -10, -15], {offset: 4, fs: 11}));
series.push(dots(gn, [nPS14, []], K, {sq: true, spread: 7, r: 2.8}));
series.push(dots(gn, [[], nNoPS14], GR, {sq: true, spread: 6, r: 2.8}));
series.push(meanLines(gn, zip3([0, 1], nMean, nErr), K, 10));
RT(257, 786, [['Δ V', 'n'], ['1/2', 's'], [' (mV)', 'n']], {fs: 12.5});
T(313.3, 757.3, 'p=0.026', {fs: 10, color: '#333'}); GL(296.7, 763.3, 328.3, 763.3, '#333');

// ---------- panel p ----------
const gp = addGrid([632.5, 750, 50, 95], catAxis(dvCats, {line: false, rotate: 45, fs: 10.5, margin: 6}),
  valAxis(-17.6, 0.19, [0, -5, -10, -15], [0, -5, -10, -15], {offset: 9, fs: 11}));
series.push(dots(gp, [pPS14, []], K, {sq: true, spread: 7, r: 2.8}));
series.push(dots(gp, [[], pNoPS14], GR, {sq: true, spread: 8, r: 2.8}));
series.push(meanLines(gp, zip3([0, 1], pMean, pErr), K, 10));
RT(610, 786, [['Δ V', 'n'], ['1/2', 's'], [' (mV)', 'n']], {fs: 12.5});
T(660, 755, 'p=0.0005', {fs: 10, color: '#333'}); GL(645, 760, 675, 760, '#333');

// ---------- panel letters ----------
[['a', 12, 12], ['b', 363, 11], ['c', 555, 11], ['d', 12, 187], ['e', 228, 187], ['f', 450, 187],
 ['g', 10, 388], ['h', 359, 384], ['i', 6, 544], ['j', 251, 545], ['k', 358, 544], ['l', 596, 544],
 ['m', 12, 722], ['n', 255, 723], ['o', 360, 722], ['p', 603, 724]].forEach(l => T(l[1], l[2], l[0], {bold: true, fs: 17, color: '#111'}));

const chart = echarts.init(document.getElementById('chart'), null, {renderer: 'canvas', width: 685, height: 884});
chart.setOption({animation: false, backgroundColor: '#fff', textStyle: {fontFamily: FONT},
  grid: grids, xAxis: xAxes, yAxis: yAxes, series, graphic: {elements: graphics}});
</script></body></html>
